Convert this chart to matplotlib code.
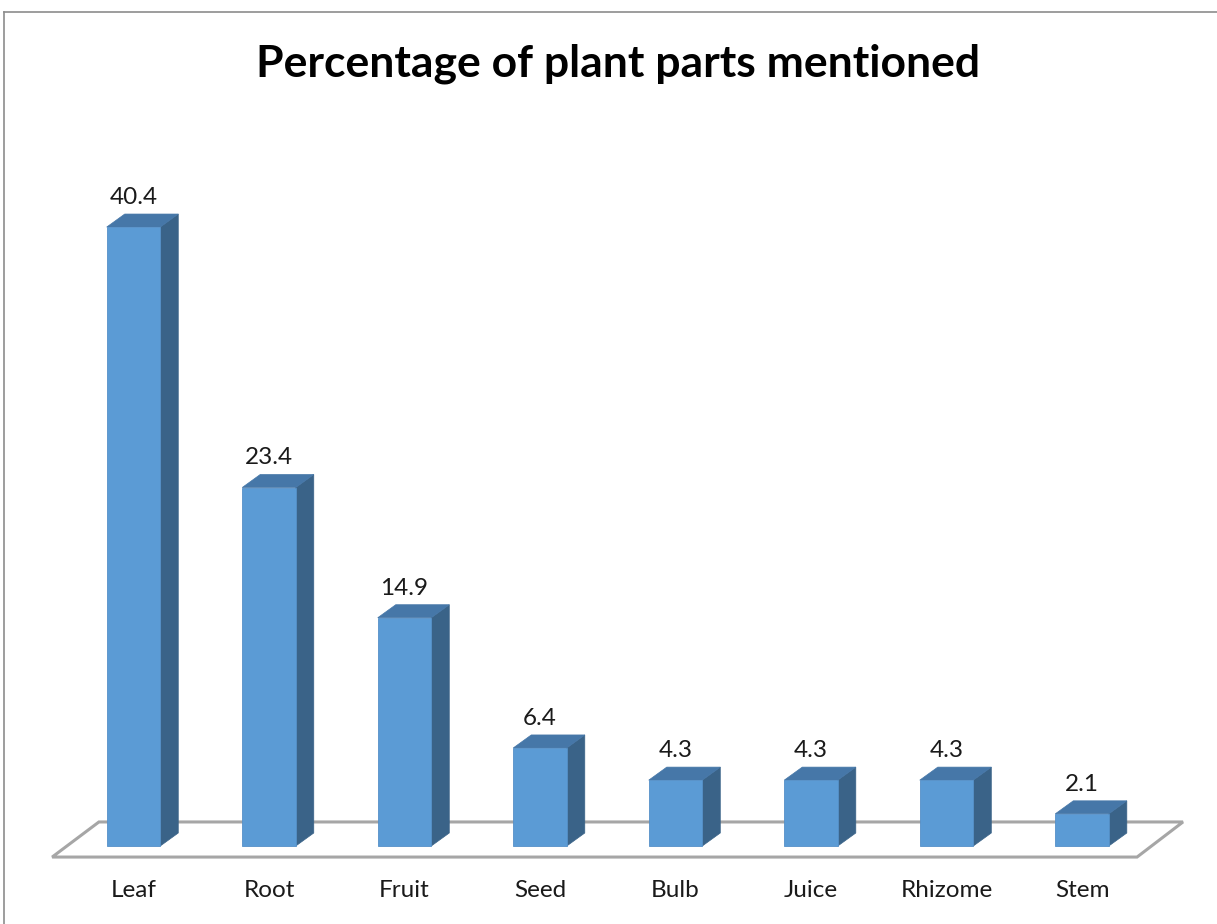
import matplotlib
matplotlib.use("Agg")
import matplotlib.pyplot as plt
from matplotlib.patches import Polygon
from matplotlib.lines import Line2D

# data
parts = ["Leaf", "Root", "Fruit", "Seed", "Bulb", "Juice", "Rhizome", "Stem"]
percent = [40.4, 23.4, 14.9, 6.4, 4.3, 4.3, 4.3, 2.1]

front_col = "#5B9BD5"
top_col = "#4677A8"
side_col = "#3A6388"

fig = plt.figure(figsize=(12.17, 9.24), dpi=100)
ax = fig.add_axes([0, 0, 1, 1])
ax.set_xlim(-0.985, 7.996)
ax.set_ylim(-5.09, 55.22)
ax.axis("off")

w = 0.395      # bar width (category units)
dx, dy = 0.133, 0.85   # depth offset of the bars

# floor
n = len(parts)
fl_front, fl_back = -0.72, 1.57
floor = Polygon([(-0.60, fl_front), (-0.255, fl_back), (n - 1 + 0.745, fl_back),
                 (n - 1 + 0.406, fl_front)], closed=True, facecolor="white",
                edgecolor="#A6A6A6", lw=2.2, zorder=1)
ax.add_patch(floor)

for i, (p, v) in enumerate(zip(parts, percent)):
    x0 = i - w / 2
    x1 = i + w / 2
    side = Polygon([(x1, 0), (x1 + dx, dy), (x1 + dx, v + dy), (x1, v)],
                   closed=True, facecolor=side_col, edgecolor=side_col, lw=0.5, zorder=2)
    top = Polygon([(x0, v), (x0 + dx, v + dy), (x1 + dx, v + dy), (x1, v)],
                  closed=True, facecolor=top_col, edgecolor=top_col, lw=0.5, zorder=2)
    ax.add_patch(side)
    ax.add_patch(top)
    ax.bar(i, v, width=w, color=front_col, edgecolor="#5590C8", lw=0.6, zorder=3)
    ax.text(i, v + dy + 0.4, f"{v}", ha="center", va="bottom",
            fontsize=17.5, family="Lato", color="#1a1a1a")
    ax.text(i, -2.9, p, ha="center", va="center", fontsize=17.5,
            family="Lato", color="#1a1a1a")

fig.text(0.508, 0.931, "Percentage of plant parts mentioned", ha="center", va="center",
         fontsize=32, fontweight="bold", family="Lato", color="black")

# chart border
fig.add_artist(Line2D([4 / 1217, 1.0], [1 - 12 / 924, 1 - 12 / 924],
                      transform=fig.transFigure, color="#8C8C8C", lw=1.2))
fig.add_artist(Line2D([4 / 1217, 4 / 1217], [0, 1 - 12 / 924],
                      transform=fig.transFigure, color="#8C8C8C", lw=1.2))

fig.savefig("out.png", dpi=100)
